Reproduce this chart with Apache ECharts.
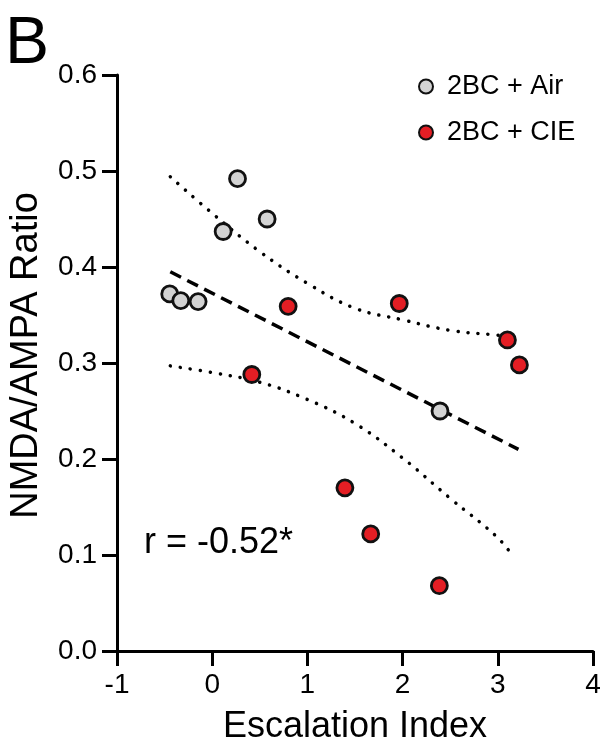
<!DOCTYPE html>
<html>
<head>
<meta charset="utf-8">
<script src="https://cdn.jsdelivr.net/npm/echarts@6/dist/echarts.min.js"></script>
<style>
  html, body { margin: 0; padding: 0; background: #fff; }
  #chart { width: 607px; height: 742px; }
</style>
</head>
<body>
<div id="chart"></div>
<script>
// Data
const airX = [-0.446, -0.330, -0.148, 0.115, 0.266, 0.577, 2.393];
const airY = [0.372, 0.365, 0.364, 0.437, 0.492, 0.450, 0.250];
const cieX = [0.416, 0.798, 1.965, 3.101, 3.227, 1.394, 1.665, 2.386];
const cieY = [0.288, 0.359, 0.362, 0.324, 0.298, 0.170, 0.122, 0.068];
const fitX = [-0.44, 3.217];
const fitY = [0.395, 0.210];
const upperX = [-0.44, 0.0, 0.5, 1.0, 1.5, 2.0, 2.5, 3.0, 3.2];
const upperY = [0.494, 0.456, 0.416, 0.383, 0.357, 0.345, 0.334, 0.329, 0.327];
const lowerX = [-0.44, 0.0, 0.5, 1.0, 1.5, 2.0, 2.5, 3.0, 3.17];
const lowerY = [0.297, 0.290, 0.280, 0.262, 0.237, 0.201, 0.159, 0.118, 0.097];
const xTicks = [-1, 0, 1, 2, 3, 4];
const yTicks = [0.0, 0.1, 0.2, 0.3, 0.4, 0.5, 0.6];
const seriesNames = ['2BC + Air', '2BC + CIE'];
const corrText = 'r = -0.52*';
const panelLabel = 'B';

const zip = (xs, ys) => xs.map((x, i) => [x, ys[i]]);
const FONT = '"Liberation Sans", Arial, sans-serif';

const chart = echarts.init(document.getElementById('chart'), null, { renderer: 'canvas' });

const axisCommon = {
  axisLine: { show: true, onZero: false, lineStyle: { color: '#000', width: 3 } },
  axisTick: { show: true, length: 15, lineStyle: { color: '#000', width: 3 } },
  splitLine: { show: false },
};

const option = {
  backgroundColor: '#fff',
  animation: false,
  grid: { left: 117, right: 14, top: 75, bottom: 91, containLabel: false, outerBoundsMode: 'none' },
  xAxis: Object.assign({}, axisCommon, {
    type: 'value',
    min: xTicks[0], max: xTicks[xTicks.length - 1], interval: 1,
    axisLabel: { color: '#000', fontSize: 28, fontFamily: FONT, margin: 20 },
    name: 'Escalation Index',
    nameLocation: 'middle',
    nameGap: 58,
    nameTextStyle: { color: '#000', fontSize: 36, fontFamily: FONT },
  }),
  yAxis: Object.assign({}, axisCommon, {
    type: 'value',
    min: yTicks[0], max: yTicks[yTicks.length - 1], interval: 0.1,
    axisLabel: { color: '#000', fontSize: 28, fontFamily: FONT, margin: 20,
      formatter: v => v.toFixed(1) },
    name: 'NMDA/AMPA Ratio',
    nameLocation: 'middle',
    nameGap: 71,
    nameTextStyle: { color: '#000', fontSize: 38, fontFamily: FONT, padding: [0, 0, 0, 15] },
  }),
  legend: {
    data: seriesNames,
    orient: 'vertical',
    left: 418, top: 73, padding: 0,
    itemWidth: 14, itemHeight: 14, itemGap: 19,
    icon: 'circle',
    textStyle: { color: '#000', fontSize: 27, fontFamily: FONT, padding: [0, 0, 0, 9] },
  },
  graphic: [
    { type: 'text', left: 5, top: 12,
      style: { text: panelLabel, font: '66px ' + FONT, fill: '#000' } },
    { type: 'text', x: 144, y: 543,
      style: { text: corrText, font: '36px ' + FONT, fill: '#000', verticalAlign: 'middle' } },
  ],
  series: [
    { type: 'line', data: zip(upperX, upperY), smooth: 0.4, symbol: 'none', silent: true,
      lineStyle: { color: '#000', width: 3.5, type: [0.1, 10], cap: 'round' }, z: 2 },
    { type: 'line', data: zip(lowerX, lowerY), smooth: 0.4, symbol: 'none', silent: true,
      lineStyle: { color: '#000', width: 3.5, type: [0.1, 10], cap: 'round' }, z: 2 },
    { type: 'line', data: zip(fitX, fitY), symbol: 'none', silent: true,
      lineStyle: { color: '#000', width: 3.5, type: [12, 7] }, z: 2 },
    { name: seriesNames[0], type: 'scatter', data: zip(airX, airY), symbol: 'circle', symbolSize: 16,
      itemStyle: { color: '#d3d3d3', borderColor: '#111', borderWidth: 2.8, opacity: 1 }, z: 5 },
    { name: seriesNames[1], type: 'scatter', data: zip(cieX, cieY), symbol: 'circle', symbolSize: 16,
      itemStyle: { color: '#e31e24', borderColor: '#111', borderWidth: 2.8, opacity: 1 }, z: 5 },
  ],
};
chart.setOption(option);
</script>
</body>
</html>
